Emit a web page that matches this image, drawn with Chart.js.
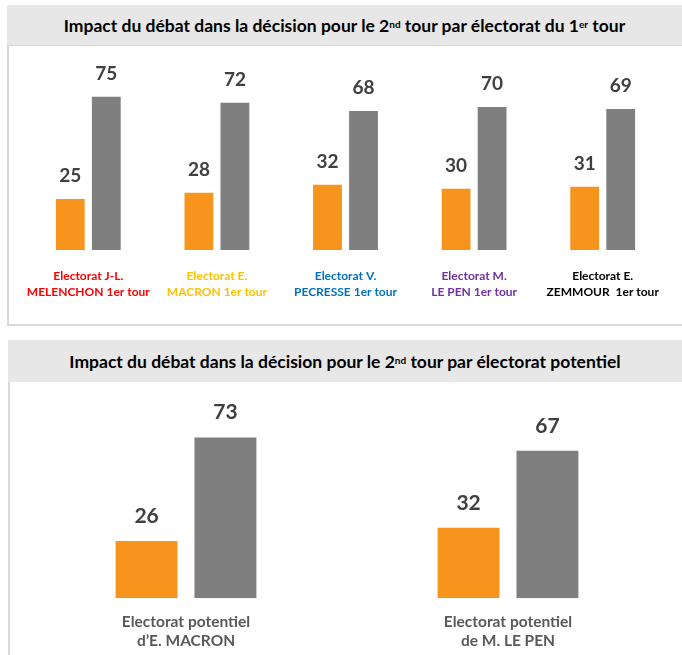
<!DOCTYPE html>
<html><head><meta charset="utf-8">
<script src="https://cdn.jsdelivr.net/npm/chart.js@4.4.1/dist/chart.umd.min.js"></script>
<style>
html,body{margin:0;padding:0;background:#fff;}
body{width:682px;height:655px;overflow:hidden;position:relative;font-family:Lato,"Open Sans",sans-serif;}
.band{position:absolute;background:#E7E7E7;color:#000;font-weight:bold;font-size:17.5px;display:flex;align-items:center;justify-content:center;white-space:nowrap;}
.band sup{font-size:10px;line-height:0;position:relative;top:-1px}
#band1{left:7px;top:5px;width:675px;height:40px;}
#box1{position:absolute;left:7px;top:45px;width:690px;border-left:2px solid #D9D9D9;border-bottom:2px solid #D9D9D9;border-top:1px solid #D9D9D9;box-sizing:border-box;height:281px}
#band2{left:8px;top:340px;width:674px;height:42px;}
#box2{position:absolute;left:8px;top:382px;width:690px;height:290px;border-left:2px solid #D9D9D9;}
canvas{position:absolute;}
#c1{left:9px;top:47px;}
#c2{left:10px;top:383px;}
</style>
</head>
<body>
<div class="band" id="band1">Impact du débat dans la décision pour le 2<sup>nd</sup>&nbsp;tour par électorat du 1<sup>er</sup>&nbsp;tour</div>
<div id="box1"></div>
<div class="band" id="band2">Impact du débat dans la décision pour le 2<sup>nd</sup>&nbsp;tour par électorat potentiel</div>
<div id="box2"></div>
<canvas id="c1" width="673" height="276"></canvas>
<canvas id="c2" width="672" height="281"></canvas>
<script>
// ---- Data ----
const categories1 = [
  ["Electorat J-L.", "MELENCHON 1er tour"],
  ["Electorat E.", "MACRON 1er tour"],
  ["Electorat V.", "PECRESSE 1er tour"],
  ["Electorat M.", "LE PEN 1er tour"],
  ["Electorat E.", "ZEMMOUR  1er tour"]
];
const seriesOrange1 = [25, 28, 32, 30, 31];
const seriesGrey1 = [75, 72, 68, 70, 69];

const categories2 = [
  ["Electorat potentiel", "d\u2019E. MACRON"],
  ["Electorat potentiel", "de M. LE PEN"]
];
const seriesOrange2 = [26, 32];
const seriesGrey2 = [73, 67];

const seriesNames = ["Série 1", "Série 2"];

// ---- Styles ----
const ORANGE = "#F7941D";
const GREY = "#7F7F7F";
const labelColors1 = ["#FF0000", "#FFC000", "#0070C0", "#7030A0", "#000000"];
const FONT = "Lato, 'Open Sans', sans-serif";

function valueLabels(size, offset) {
  return {
    id: "valueLabels",
    afterDatasetsDraw(chart) {
      const ctx = chart.ctx;
      ctx.save();
      ctx.font = "bold " + size + "px " + FONT;
      ctx.fillStyle = "#404040";
      ctx.textAlign = "center";
      ctx.textBaseline = "alphabetic";
      chart.data.datasets.forEach((ds, i) => {
        chart.getDatasetMeta(i).data.forEach((el, j) => {
          ctx.fillText(String(ds.data[j]), el.x, el.y - offset);
        });
      });
      ctx.restore();
    }
  };
}

function makeChart(id, cats, a, b, opts) {
  return new Chart(document.getElementById(id), {
    type: "bar",
    data: {
      labels: cats,
      datasets: [
        { label: seriesNames[0], data: a, backgroundColor: ORANGE,
          categoryPercentage: opts.catPct, barPercentage: opts.barPct },
        { label: seriesNames[1], data: b, backgroundColor: GREY,
          categoryPercentage: opts.catPct, barPercentage: opts.barPct }
      ]
    },
    options: {
      responsive: false,
      animation: false,
      layout: { padding: opts.padding },
      plugins: { legend: { display: false }, tooltip: { enabled: false }, title: { display: false } },
      scales: {
        x: {
          grid: { display: false, drawTicks: false },
          border: { display: false },
          afterFit: (s) => { s.paddingLeft = 0; s.paddingRight = 0; },
          ticks: {
            color: opts.tickColor,
            font: { family: FONT, size: opts.tickSize, weight: "bold", lineHeight: opts.lineHeight },
            padding: opts.tickPad,
            maxRotation: 0, minRotation: 0, autoSkip: false
          }
        },
        y: { display: false, min: 0, max: opts.max }
      }
    },
    plugins: [valueLabels(opts.valueSize, opts.valueOffset)]
  });
}

makeChart("c1", categories1, seriesOrange1, seriesGrey1, {
  catPct: 0.56, barPct: 0.8,
  padding: { left: 15, right: 15, top: 19, bottom: 5 },
  tickColor: (c) => labelColors1[c.index],
  tickSize: 12, lineHeight: 1.33, tickPad: 18,
  max: 90, valueSize: 19, valueOffset: 17
});

makeChart("c2", categories2, seriesOrange2, seriesGrey2, {
  catPct: 0.49, barPct: 0.785,
  padding: { left: 15, right: 13, top: 28, bottom: 0 },
  tickColor: "#595959",
  tickSize: 15.5, lineHeight: 1.22, tickPad: 14,
  max: 85, valueSize: 21, valueOffset: 18
});
</script>
</body></html>
